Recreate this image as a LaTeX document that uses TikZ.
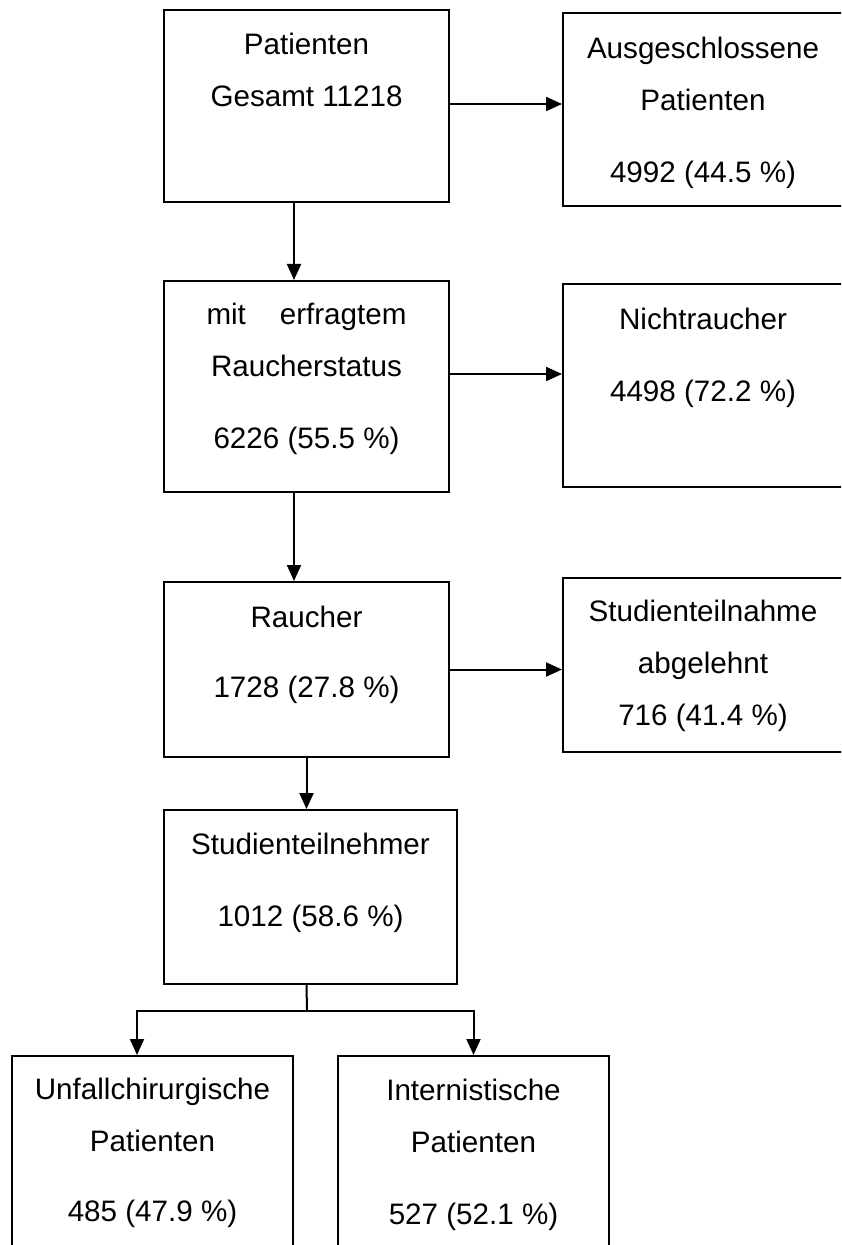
\documentclass[tikz,border=0pt]{standalone}
\usepackage{fontspec}
\setmainfont{Liberation Sans}
\usetikzlibrary{arrows.meta,positioning}

\begin{document}
\begin{tikzpicture}[x=0.5pt,y=-0.5pt,line width=1pt,
  box/.style={draw,rectangle,inner sep=0pt,minimum width=142.5pt},
  side/.style={box,minimum width=140pt},
  txt/.style={anchor=north,inner sep=0pt,align=center,font=\fontsize{14.8}{26}\selectfont},
  arr/.style={-{Triangle[length=8pt,width=7pt]}}]
\useasboundingbox (0,0) rectangle (841,1245);
\clip (0,0) rectangle (841,1245);

\node[box,minimum height=96pt] (pat) at (306.5,106) {};
\node[side,minimum height=96.5pt] (aus) at (703,109.5) {};
\node[box,minimum height=105.5pt] (erf) at (306.5,386.5) {};
\node[side,minimum height=101.5pt] (nic) at (703,385.5) {};
\node[box,minimum height=87.5pt] (rau) at (306.5,669.5) {};
\node[side,minimum height=87pt] (abg) at (703,665) {};
\node[box,minimum width=146.5pt,minimum height=87pt] (stn) at (310.5,897) {};
\node[box,minimum width=140.5pt,minimum height=107pt] (unf) at (152.5,1163) {};
\node[box,minimum width=135.5pt,minimum height=107pt] (int) at (473.5,1163) {};

\node[txt,below=4.3pt of pat.north] (pat-t) {\strut Patienten\\Gesamt 11218};
\node[txt,below=4.5pt of aus.north] (aus-t) {\strut Ausgeschlossene\\Patienten\\[10pt]4992 (44.5 \%)};
\node[txt,below=3.5pt of erf.north] (erf-t) {\strut\makebox[100pt][s]{mit erfragtem}\\Raucherstatus\\[10pt]6226 (55.5 \%)};
\node[txt,below=4.5pt of nic.north] (nic-t) {\strut Nichtraucher\\[10pt]4498 (72.2 \%)};
\node[txt,below=4.5pt of rau.north] (rau-t) {\strut Raucher\\[9pt]1728 (27.8 \%)};
\node[txt,below=3.5pt of abg.north] (abg-t) {\strut Studienteilnahme\\abgelehnt\\716 (41.4 \%)};
\node[txt,below=4pt of stn.north] (stn-t) {\strut Studienteilnehmer\\[10pt]1012 (58.6 \%)};
\node[txt,below=3.5pt of unf.north] (unf-t) {\strut Unfallchirurgische\\Patienten\\[9pt]485 (47.9 \%)};
\node[txt,below=4pt of int.north] (int-t) {\strut Internistische\\Patienten\\[10pt]527 (52.1 \%)};

\draw[arr] ([yshift=1pt]pat.east) -- ([yshift=1pt]pat.east -| aus.west);
\draw[arr] ([yshift=6.25pt]erf.east) -- ([yshift=6.25pt]erf.east -| nic.west);
\draw[arr] (rau.east) -- (rau.east -| abg.west);

\draw[arr] ([xshift=-6.25pt]pat.south) -- ([xshift=-6.25pt]erf.north);
\draw[arr] ([xshift=-6.25pt]erf.south) -- ([xshift=-6.25pt]rau.north);
\draw[arr] (rau.south) -- (rau.south |- stn.north);

\coordinate (split) at (307,1011);
\draw (rau.south |- stn.south) -- (split);
\draw[arr] (split) -| ([xshift=-7.75pt]unf.north);
\draw[arr] (split) -| (int.north);
\end{tikzpicture}
\end{document}
